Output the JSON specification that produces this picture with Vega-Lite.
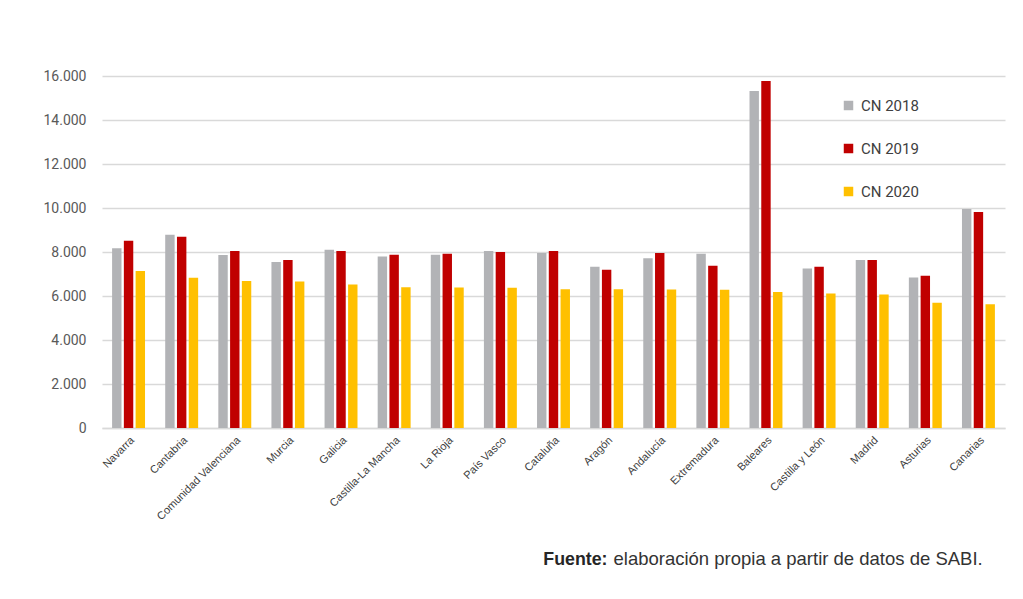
{
  "$schema": "https://vega.github.io/schema/vega-lite/v6.json",
  "autosize": {"type": "none"},
  "width": 903,
  "height": 352,
  "padding": {"left": 102, "top": 76, "right": 18, "bottom": 171},
  "background": "white",
  "config": {
    "locale": {"number": {"decimal": ",", "thousands": ".", "grouping": [3], "currency": ["", " €"]}},
    "view": {"stroke": null}
  },
  "data": {
    "values": [
      {"region": "Navarra", "serie": "CN 2018", "valor": 8170},
      {"region": "Navarra", "serie": "CN 2019", "valor": 8510},
      {"region": "Navarra", "serie": "CN 2020", "valor": 7140},
      {"region": "Cantabria", "serie": "CN 2018", "valor": 8780},
      {"region": "Cantabria", "serie": "CN 2019", "valor": 8690},
      {"region": "Cantabria", "serie": "CN 2020", "valor": 6830},
      {"region": "Comunidad Valenciana", "serie": "CN 2018", "valor": 7860},
      {"region": "Comunidad Valenciana", "serie": "CN 2019", "valor": 8040},
      {"region": "Comunidad Valenciana", "serie": "CN 2020", "valor": 6680},
      {"region": "Murcia", "serie": "CN 2018", "valor": 7550},
      {"region": "Murcia", "serie": "CN 2019", "valor": 7640},
      {"region": "Murcia", "serie": "CN 2020", "valor": 6660},
      {"region": "Galicia", "serie": "CN 2018", "valor": 8100},
      {"region": "Galicia", "serie": "CN 2019", "valor": 8050},
      {"region": "Galicia", "serie": "CN 2020", "valor": 6520},
      {"region": "Castilla-La Mancha", "serie": "CN 2018", "valor": 7790},
      {"region": "Castilla-La Mancha", "serie": "CN 2019", "valor": 7870},
      {"region": "Castilla-La Mancha", "serie": "CN 2020", "valor": 6400},
      {"region": "La Rioja", "serie": "CN 2018", "valor": 7870},
      {"region": "La Rioja", "serie": "CN 2019", "valor": 7920},
      {"region": "La Rioja", "serie": "CN 2020", "valor": 6390},
      {"region": "País Vasco", "serie": "CN 2018", "valor": 8040},
      {"region": "País Vasco", "serie": "CN 2019", "valor": 8000},
      {"region": "País Vasco", "serie": "CN 2020", "valor": 6370},
      {"region": "Cataluña", "serie": "CN 2018", "valor": 7950},
      {"region": "Cataluña", "serie": "CN 2019", "valor": 8040},
      {"region": "Cataluña", "serie": "CN 2020", "valor": 6310},
      {"region": "Aragón", "serie": "CN 2018", "valor": 7330},
      {"region": "Aragón", "serie": "CN 2019", "valor": 7190},
      {"region": "Aragón", "serie": "CN 2020", "valor": 6310},
      {"region": "Andalucía", "serie": "CN 2018", "valor": 7720},
      {"region": "Andalucía", "serie": "CN 2019", "valor": 7950},
      {"region": "Andalucía", "serie": "CN 2020", "valor": 6290},
      {"region": "Extremadura", "serie": "CN 2018", "valor": 7920},
      {"region": "Extremadura", "serie": "CN 2019", "valor": 7370},
      {"region": "Extremadura", "serie": "CN 2020", "valor": 6280},
      {"region": "Baleares", "serie": "CN 2018", "valor": 15320},
      {"region": "Baleares", "serie": "CN 2019", "valor": 15770},
      {"region": "Baleares", "serie": "CN 2020", "valor": 6180},
      {"region": "Castilla y León", "serie": "CN 2018", "valor": 7250},
      {"region": "Castilla y León", "serie": "CN 2019", "valor": 7330},
      {"region": "Castilla y León", "serie": "CN 2020", "valor": 6110},
      {"region": "Madrid", "serie": "CN 2018", "valor": 7640},
      {"region": "Madrid", "serie": "CN 2019", "valor": 7640},
      {"region": "Madrid", "serie": "CN 2020", "valor": 6070},
      {"region": "Asturias", "serie": "CN 2018", "valor": 6840},
      {"region": "Asturias", "serie": "CN 2019", "valor": 6920},
      {"region": "Asturias", "serie": "CN 2020", "valor": 5690},
      {"region": "Canarias", "serie": "CN 2018", "valor": 9960},
      {"region": "Canarias", "serie": "CN 2019", "valor": 9820},
      {"region": "Canarias", "serie": "CN 2020", "valor": 5630}
    ]
  },
  "mark": {"type": "bar"},
  "encoding": {
    "x": {
      "field": "region",
      "type": "nominal",
      "sort": null,
      "scale": {"paddingInner": 0.38, "paddingOuter": 0.19},
      "axis": {
        "title": "Fuente:",
        "titleFont": "Liberation Sans",
        "titleFontSize": 17.8,
        "titleFontWeight": "bold",
        "titleColor": "#262626",
        "titleAnchor": null,
        "titleAlign": "right",
        "titleBaseline": "alphabetic",
        "titleAngle": 0,
        "titleX": 505,
        "titleY": 136,
        "labelAngle": -45,
        "labelFont": "Liberation Sans",
        "labelFontSize": 11,
        "labelColor": "#404040",
        "labelPadding": 6,
        "ticks": false,
        "domainColor": "#d9d9d9",
        "domainWidth": 1.5
      }
    },
    "xOffset": {
      "field": "serie",
      "type": "nominal",
      "scale": {"paddingInner": 0.2, "paddingOuter": 0}
    },
    "y": {
      "field": "valor",
      "type": "quantitative",
      "scale": {"domain": [0, 16000], "nice": false},
      "axis": {
        "values": [0, 2000, 4000, 6000, 8000, 10000, 12000, 14000, 16000],
        "format": ",.0f",
        "title": "elaboración propia a partir de datos de SABI.",
        "titleFont": "Liberation Sans",
        "titleFontSize": 18.5,
        "titleFontWeight": "normal",
        "titleColor": "#333333",
        "titleAngle": 0,
        "titleAlign": "left",
        "titleBaseline": "alphabetic",
        "titleX": 511,
        "titleY": 488,
        "labelFont": "Roboto",
        "labelFontSize": 14,
        "labelColor": "#595959",
        "labelPadding": 16,
        "ticks": false,
        "domain": false,
        "grid": true,
        "gridColor": "#d9d9d9",
        "gridWidth": 1.3
      }
    },
    "color": {
      "field": "serie",
      "type": "nominal",
      "scale": {
        "domain": ["CN 2018", "CN 2019", "CN 2020"],
        "range": ["#b2b3b6", "#c00000", "#ffc000"]
      },
      "legend": {
        "title": null,
        "orient": "none",
        "legendX": 739,
        "legendY": 22,
        "symbolType": "square",
        "symbolSize": 90,
        "symbolStrokeWidth": 0,
        "labelFont": "Roboto",
        "labelFontSize": 15,
        "labelColor": "#404040",
        "labelOffset": 5,
        "rowPadding": 27
      }
    }
  }
}
